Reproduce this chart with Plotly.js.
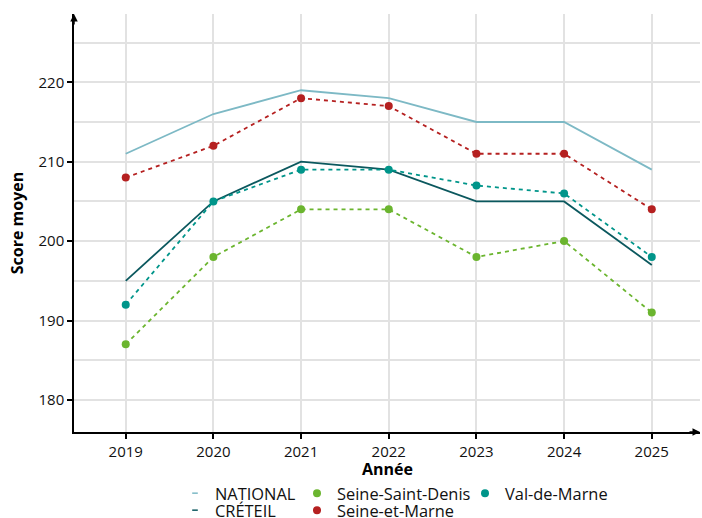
<!DOCTYPE html>
<html><head><meta charset="utf-8">
<script src="https://cdn.plot.ly/plotly-3.0.1.min.js"></script>
<style>html,body{margin:0;padding:0;background:#fff}#c{width:702px;height:518px}</style>
</head><body><div id="c"></div>
<script>
var years = [2019, 2020, 2021, 2022, 2023, 2024, 2025];
var national = [211, 216, 219, 218, 215, 215, 209];
var creteil = [195, 205, 210, 209, 205, 205, 197];
var seineSaintDenis = [187, 198, 204, 204, 198, 200, 191];
var seineEtMarne = [208, 212, 218, 217, 211, 211, 204];
var valDeMarne = [192, 205, 209, 209, 207, 206, 198];
var yTicks = [180, 190, 200, 210, 220];

var C_NAT = '#7db9c5', C_CRE = '#0b585e', C_SSD = '#6bb52f', C_SEM = '#b52020', C_VDM = '#00958a';
var FONT = '"Open Sans", "Noto Sans", sans-serif';

function lineTrace(name, y, color){
  return {x: years, y: y, name: name, type: 'scatter', mode: 'lines',
    line: {color: color, width: 1.8}, showlegend: false};
}
function deptTrace(name, y, color){
  return {x: years, y: y, name: name, type: 'scatter', mode: 'lines+markers',
    line: {color: color, width: 1.8, dash: '4px,4px'}, marker: {color: color, size: 8},
    showlegend: false};
}
function legTrace(name, color, isLine, legend){
  var t = {x: [null], y: [null], name: name, type: 'scatter', mode: 'markers', legend: legend, showlegend: true};
  if (isLine) t.marker = {symbol: 'line-ew-open', size: 4, line: {color: color, width: 1.5}, color: color};
  else t.marker = {symbol: 'circle', size: 8, color: color};
  return t;
}

var data = [
  lineTrace('NATIONAL', national, C_NAT),
  lineTrace('CRÉTEIL', creteil, C_CRE),
  deptTrace('Seine-et-Marne', seineEtMarne, C_SEM),
  deptTrace('Val-de-Marne', valDeMarne, C_VDM),
  deptTrace('Seine-Saint-Denis', seineSaintDenis, C_SSD),
  legTrace('NATIONAL', C_NAT, true, 'legend'),
  legTrace('CRÉTEIL', C_CRE, true, 'legend4'),
  legTrace('Seine-Saint-Denis', C_SSD, false, 'legend2'),
  legTrace('Seine-et-Marne', C_SEM, false, 'legend5'),
  legTrace('Val-de-Marne', C_VDM, false, 'legend3')
];

function leg(xpx, toppx){
  return {orientation: 'v', xref: 'paper', yref: 'container', xanchor: 'left', yanchor: 'top',
    x: (xpx - 74) / 626, y: (518 - toppx) / 518,
    font: {family: FONT, size: 16.4, color: '#111'}, bgcolor: 'rgba(0,0,0,0)', tracegroupgap: 0,
    itemwidth: 30, borderwidth: 0};
}

var layout = {
  width: 702, height: 518,
  margin: {l: 74, r: 2, t: 14, b: 86, autoexpand: false},
  paper_bgcolor: '#fff', plot_bgcolor: '#fff',
  font: {family: FONT, size: 15, color: '#111'},
  xaxis: {
    range: [2018.41, 2025.55], tickvals: years, ticktext: years.map(String),
    showgrid: true, gridcolor: '#e2e2e2', gridwidth: 1.5,
    showline: true, linecolor: '#000', linewidth: 1.5,
    ticks: 'outside', ticklen: 5, tickwidth: 1.5, tickcolor: '#000',
    zeroline: false, fixedrange: true, automargin: false,
    tickfont: {family: FONT, size: 15, color: '#111'}
  },
  yaxis: {
    range: [175.96, 228.6], tickvals: yTicks, ticktext: yTicks.map(String),
    showgrid: true, gridcolor: '#e2e2e2', gridwidth: 1.5,
    minor: {dtick: 5, tick0: 175, showgrid: true, gridcolor: '#e2e2e2', gridwidth: 1.5, ticks: ''},
    showline: true, linecolor: '#000', linewidth: 1.5,
    ticks: 'outside', ticklen: 5, tickwidth: 1.5, tickcolor: '#000',
    zeroline: false, fixedrange: true, automargin: false,
    tickfont: {family: FONT, size: 15, color: '#111'},
    title: {text: '<b>Score moyen</b>', font: {family: FONT, size: 16, color: '#000'}, standoff: 11}
  },
  legend: leg(175, 476),
  legend4: leg(175, 493),
  legend2: leg(297, 476),
  legend5: leg(297, 493),
  legend3: leg(465, 476),
  showlegend: true,
  annotations: [
    {xref: 'paper', yref: 'paper', x: 0.5, y: (432 - 469) / 418, xanchor: 'center', yanchor: 'middle',
     showarrow: false, text: '<b>Année</b>', font: {family: FONT, size: 16, color: '#000'}},
    {xref: 'paper', yref: 'paper', x: 0, y: 1.0, ax: 0, ay: 12,
     showarrow: true, arrowhead: 2, arrowsize: 1, arrowwidth: 1.5, arrowcolor: '#000', text: ''},
    {xref: 'paper', yref: 'paper', x: 1.0, y: 0, ax: -12, ay: 0,
     showarrow: true, arrowhead: 2, arrowsize: 1, arrowwidth: 1.5, arrowcolor: '#000', text: ''}
  ]
};

Plotly.newPlot('c', data, layout, {displayModeBar: false, responsive: false});
</script>
</body></html>
